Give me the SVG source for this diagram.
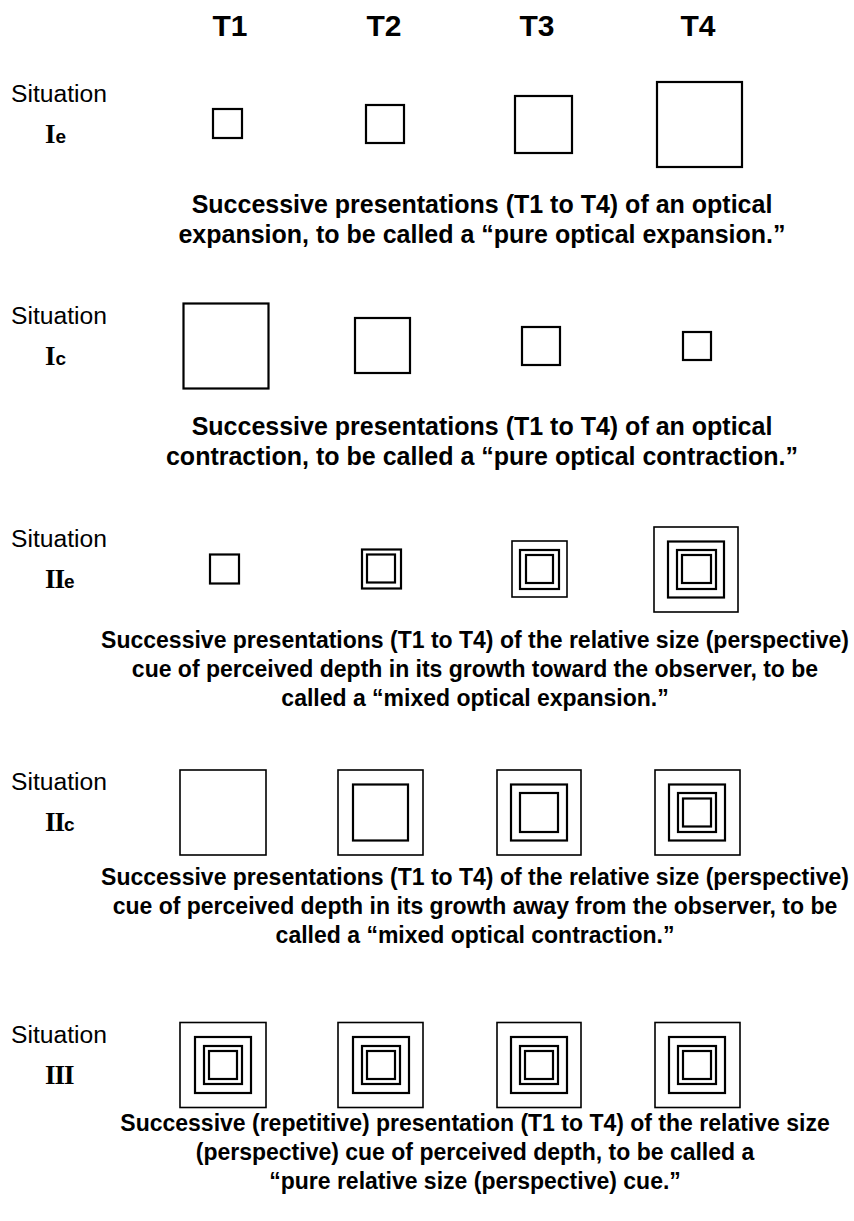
<svg xmlns="http://www.w3.org/2000/svg" width="854" height="1221" viewBox="0 0 854 1221">
<style>
.bg{fill:#fff}
.sq{fill:none;stroke:#000;stroke-width:2.2}
.sqo{fill:none;stroke:#000;stroke-width:1.6}
.hdr{font-family:"Liberation Sans",Arial,sans-serif;font-weight:bold;font-size:30px;text-anchor:middle;fill:#000}
.sit{font-family:"Liberation Sans",Arial,sans-serif;font-size:23px;fill:#000}
.rom{font-family:"Liberation Serif","Times New Roman",serif;font-weight:bold;font-size:27px;fill:#000}
.suf{font-family:"Liberation Sans",Arial,sans-serif;font-weight:bold;font-size:19px}
.cap{font-family:"Liberation Sans",Arial,sans-serif;font-weight:bold;font-size:23px;text-anchor:middle;fill:#000}
.capw{font-family:"Liberation Sans",Arial,sans-serif;font-weight:bold;font-size:25px;text-anchor:middle;fill:#000}
</style>
<rect class="bg" x="0" y="0" width="854" height="1221"/>
<g id="headers">
<text class="hdr" x="230" y="36">T1</text>
<text class="hdr" x="384" y="36">T2</text>
<text class="hdr" x="537" y="36">T3</text>
<text class="hdr" x="698" y="36">T4</text>
</g>
<g id="row-Ie">
<text class="sit" x="11" y="102" textLength="96" lengthAdjust="spacingAndGlyphs">Situation</text>
<text class="rom" x="45" y="143">I<tspan class="suf">e</tspan></text>
<rect class="sq" x="213" y="109" width="29" height="29"/>
<rect class="sq" x="366" y="105" width="38" height="38"/>
<rect class="sq" x="515" y="96" width="57" height="57"/>
<rect class="sq" x="657" y="82" width="85" height="85"/>
<text class="capw" x="482" y="213">Successive presentations (T1 to T4) of an optical</text>
<text class="capw" x="482" y="243">expansion, to be called a “pure optical expansion.”</text>
</g>
<g id="row-Ic">
<text class="sit" x="11" y="324" textLength="96" lengthAdjust="spacingAndGlyphs">Situation</text>
<text class="rom" x="45" y="365">I<tspan class="suf">c</tspan></text>
<rect class="sq" x="183.5" y="303.5" width="85" height="85"/>
<rect class="sq" x="355" y="318" width="55" height="55"/>
<rect class="sq" x="522" y="327" width="38" height="38"/>
<rect class="sq" x="683" y="332" width="28" height="28"/>
<text class="capw" x="482" y="435">Successive presentations (T1 to T4) of an optical</text>
<text class="capw" x="482" y="465">contraction, to be called a “pure optical contraction.”</text>
</g>
<g id="row-IIe">
<text class="sit" x="11" y="547" textLength="96" lengthAdjust="spacingAndGlyphs">Situation</text>
<text class="rom" x="45" y="588" letter-spacing="-1">II<tspan class="suf" letter-spacing="0">e</tspan></text>
<rect class="sq" x="210" y="554.5" width="29" height="29"/>
<rect class="sq" x="362" y="549.5" width="39" height="39"/>
<rect class="sq" x="367" y="554.5" width="28" height="28"/>
<rect class="sqo" x="512" y="541" width="55" height="56"/>
<rect class="sq" x="520" y="550" width="39" height="39"/>
<rect class="sq" x="526" y="555" width="27" height="28"/>
<rect class="sqo" x="654" y="527" width="84" height="85"/>
<rect class="sq" x="668" y="541.5" width="56" height="56"/>
<rect class="sq" x="677" y="550" width="39" height="39"/>
<rect class="sq" x="682" y="555" width="29" height="28"/>
<text class="cap" x="475" y="648">Successive presentations (T1 to T4) of the relative size (perspective)</text>
<text class="cap" x="475" y="677">cue of perceived depth in its growth toward the observer, to be</text>
<text class="cap" x="475" y="706">called a “mixed optical expansion.”</text>
</g>
<g id="row-IIc">
<text class="sit" x="11" y="790" textLength="96" lengthAdjust="spacingAndGlyphs">Situation</text>
<text class="rom" x="45" y="831" letter-spacing="-1">II<tspan class="suf" letter-spacing="0">c</tspan></text>
<rect class="sqo" x="180" y="770" width="86" height="85"/>
<rect class="sqo" x="338" y="770" width="85" height="85"/>
<rect class="sq" x="353" y="784.5" width="55" height="56"/>
<rect class="sqo" x="497" y="770" width="84" height="85"/>
<rect class="sq" x="511" y="784.5" width="56" height="56"/>
<rect class="sq" x="520" y="793" width="38" height="39"/>
<rect class="sqo" x="655" y="770" width="85" height="85"/>
<rect class="sq" x="669" y="784.5" width="56" height="56"/>
<rect class="sq" x="678" y="793" width="38" height="39"/>
<rect class="sq" x="683" y="798.5" width="28" height="28"/>
<text class="cap" x="475" y="885">Successive presentations (T1 to T4) of the relative size (perspective)</text>
<text class="cap" x="475" y="914">cue of perceived depth in its growth away from the observer, to be</text>
<text class="cap" x="475" y="943">called a “mixed optical contraction.”</text>
</g>
<g id="row-III">
<text class="sit" x="11" y="1043" textLength="96" lengthAdjust="spacingAndGlyphs">Situation</text>
<text class="rom" x="45" y="1084" letter-spacing="-1">III</text>
<rect class="sqo" x="180" y="1022.5" width="86" height="85"/>
<rect class="sq" x="195" y="1037" width="56" height="56"/>
<rect class="sq" x="204" y="1046" width="38" height="38"/>
<rect class="sq" x="209" y="1051" width="28" height="28"/>
<rect class="sqo" x="338" y="1022.5" width="85" height="85"/>
<rect class="sq" x="353" y="1037" width="56" height="56"/>
<rect class="sq" x="362" y="1046" width="38" height="38"/>
<rect class="sq" x="367" y="1051" width="28" height="28"/>
<rect class="sqo" x="497" y="1022.5" width="84" height="85"/>
<rect class="sq" x="511" y="1037" width="56" height="56"/>
<rect class="sq" x="520" y="1046" width="38" height="38"/>
<rect class="sq" x="525" y="1051" width="28" height="28"/>
<rect class="sqo" x="655" y="1022.5" width="85" height="85"/>
<rect class="sq" x="669" y="1037" width="56" height="56"/>
<rect class="sq" x="678" y="1046" width="38" height="38"/>
<rect class="sq" x="683" y="1051" width="28" height="28"/>
<text class="cap" x="475" y="1131">Successive (repetitive) presentation (T1 to T4) of the relative size</text>
<text class="cap" x="475" y="1160">(perspective) cue of perceived depth, to be called a</text>
<text class="cap" x="475" y="1189">“pure relative size (perspective) cue.”</text>
</g>
</svg>
